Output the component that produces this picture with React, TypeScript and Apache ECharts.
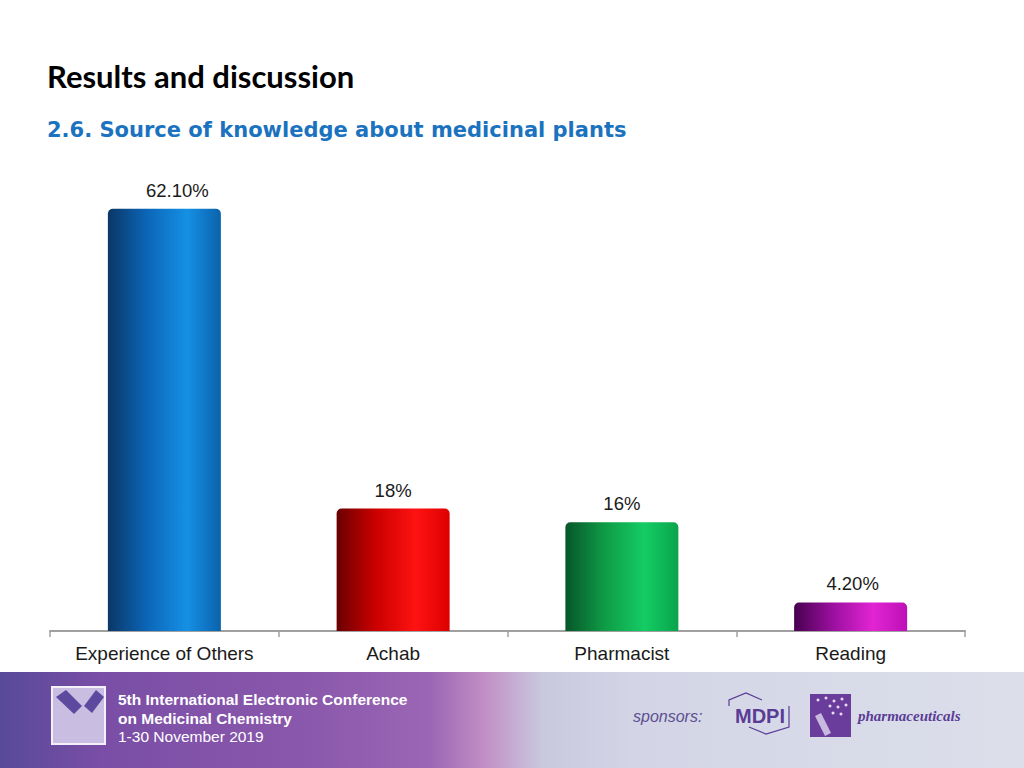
import React, { useEffect, useRef } from "react";
import * as echarts from "echarts";

const categories = ["Experience of Others", "Achab", "Pharmacist", "Reading"];
const values = [62.1, 18, 16, 4.2];
const valueLabels = ["62.10%", "18%", "16%", "4.20%"];

const barGradients = [
  ["#0a3766", "#0c66b8", "#1590e4", "#0b62ac"],
  ["#6a0000", "#cc0000", "#ff1212", "#dd0000"],
  ["#06562a", "#0f9c46", "#14cc64", "#0aa44c"],
  ["#480050", "#9c10a0", "#e224d4", "#bd10b6"],
];
const labelOffsets = [[13, 0], [0, 0], [0, 0], [2, 0]];

function grad(c: string[]) {
  return new echarts.graphic.LinearGradient(0, 0, 1, 0, [
    { offset: 0, color: c[0] },
    { offset: 0.35, color: c[1] },
    { offset: 0.7, color: c[2] },
    { offset: 1, color: c[3] },
  ]);
}

const dots = [
  [818, 700], [826, 698], [834, 701], [842, 699], [830, 706], [838, 707], [846, 705], [833, 713], [841, 714],
];

export default function App() {
  const ref = useRef<HTMLDivElement>(null);
  useEffect(() => {
    if (!ref.current) return;
    const chart = echarts.init(ref.current, null, { renderer: "svg" });
    const footerGrad = new echarts.graphic.LinearGradient(0, 0, 1, 0, [
      { offset: 0, color: "#584a98" },
      { offset: 0.1, color: "#7a4ea6" },
      { offset: 0.3, color: "#8a58ac" },
      { offset: 0.42, color: "#9b66b4" },
      { offset: 0.47, color: "#c08cc4" },
      { offset: 0.53, color: "#c9c9de" },
      { offset: 0.62, color: "#d3d5e6" },
      { offset: 1, color: "#dcdfea" },
    ]);
    chart.setOption({
      animation: false,
      backgroundColor: "#ffffff",
      grid: { left: 50, right: 59, top: 155, bottom: 137, containLabel: false },
      xAxis: {
        type: "category",
        data: categories,
        axisLine: { lineStyle: { color: "#a0a0a0", width: 2 } },
        axisTick: { show: true, interval: 0, length: 6, lineStyle: { color: "#a0a0a0", width: 1.5 } },
        axisLabel: {
          interval: 0,
          color: "#1a1a1a",
          fontSize: 19,
          fontFamily: "Liberation Sans, Arial, sans-serif",
          margin: 13,
        },
      },
      yAxis: {
        type: "value",
        min: 0,
        max: 70,
        show: false,
        splitLine: { show: false },
      },
      series: [
        {
          type: "bar",
          barWidth: 113,
          data: values.map((v, i) => ({
            value: v,
            itemStyle: { color: grad(barGradients[i]), borderRadius: [5, 5, 0, 0] },
            label: { offset: labelOffsets[i] },
          })),
          label: {
            show: true,
            position: "top",
            distance: 9,
            color: "#1a1a1a",
            fontSize: 18.5,
            fontFamily: "Liberation Sans, Arial, sans-serif",
            formatter: (p: any) => valueLabels[p.dataIndex],
          },
        },
      ],
      graphic: [
        {
          type: "text",
          left: 47,
          top: 60,
          style: {
            text: "Results and discussion",
            font: "bold 31px Lato, 'Open Sans', sans-serif",
            fill: "#000000",
          },
        },
        {
          type: "text",
          left: 47,
          top: 119,
          style: {
            text: "2.6. Source of knowledge about medicinal plants",
            font: "bold 21px 'DejaVu Sans', sans-serif",
            fill: "#1b72be",
          },
        },
        {
          type: "rect",
          shape: { x: 0, y: 672, width: 1024, height: 96 },
          style: { fill: footerGrad },
          z: -1,
        },
        {
          type: "rect",
          shape: { x: 52, y: 687, width: 53, height: 57 },
          style: { fill: "#c9bde2", stroke: "#f4f0fa", lineWidth: 2 },
        },
        {
          type: "polygon",
          shape: { points: [[56, 697], [66, 690], [82, 706], [74, 714]] },
          style: { fill: "#5d4a9e" },
        },
        {
          type: "polygon",
          shape: { points: [[84, 706], [96, 690], [104, 697], [92, 713]] },
          style: { fill: "#5d4a9e" },
        },
        {
          type: "text",
          left: 118,
          top: 690,
          style: {
            text: "5th International Electronic Conference\non Medicinal Chemistry",
            font: "bold 15.5px 'Liberation Sans Narrow', 'Liberation Sans', Arial, sans-serif",
            lineHeight: 19,
            fill: "#ffffff",
          },
        },
        {
          type: "text",
          left: 118,
          top: 728,
          style: {
            text: "1-30 November 2019",
            font: "15.5px 'Liberation Sans Narrow', 'Liberation Sans', Arial, sans-serif",
            fill: "#ffffff",
          },
        },
        {
          type: "text",
          left: 633,
          top: 708,
          style: {
            text: "sponsors:",
            font: "italic 16px 'Liberation Sans', Arial, sans-serif",
            fill: "#5c4f90",
          },
        },
        {
          type: "polyline",
          shape: { points: [[729, 706], [729, 700], [746, 693], [762, 700]] },
          style: { stroke: "#5a3c96", lineWidth: 1.2, fill: "none" },
        },
        {
          type: "polyline",
          shape: { points: [[789, 706], [789, 727], [766, 734], [749, 727]] },
          style: { stroke: "#5a3c96", lineWidth: 1.2, fill: "none" },
        },
        {
          type: "text",
          left: 735,
          top: 706,
          style: {
            text: "MDPI",
            font: "bold 20px 'Liberation Sans Narrow', 'Liberation Sans', Arial, sans-serif",
            fill: "#5a3c96",
          },
        },
        {
          type: "rect",
          shape: { x: 810, y: 694, width: 41, height: 43 },
          style: { fill: "#6a3c9c" },
        },
        ...dots.map((d) => ({
          type: "circle",
          shape: { cx: d[0], cy: d[1], r: 1.5 },
          style: { fill: "#e6dcf4" },
        })),
        {
          type: "polygon",
          shape: { points: [[815, 716], [821, 713], [831, 733], [825, 736]] },
          style: { fill: "#c8b8e0" },
        },
        {
          type: "text",
          left: 858,
          top: 708,
          style: {
            text: "pharmaceuticals",
            font: "italic bold 15px 'Liberation Serif', serif",
            fill: "#5a3c96",
          },
        },
      ],
    });
    return () => chart.dispose();
  }, []);
  return (
    <div
      ref={ref}
      style={{ position: "absolute", left: 0, top: 0, width: 1024, height: 768 }}
    />
  );
}
